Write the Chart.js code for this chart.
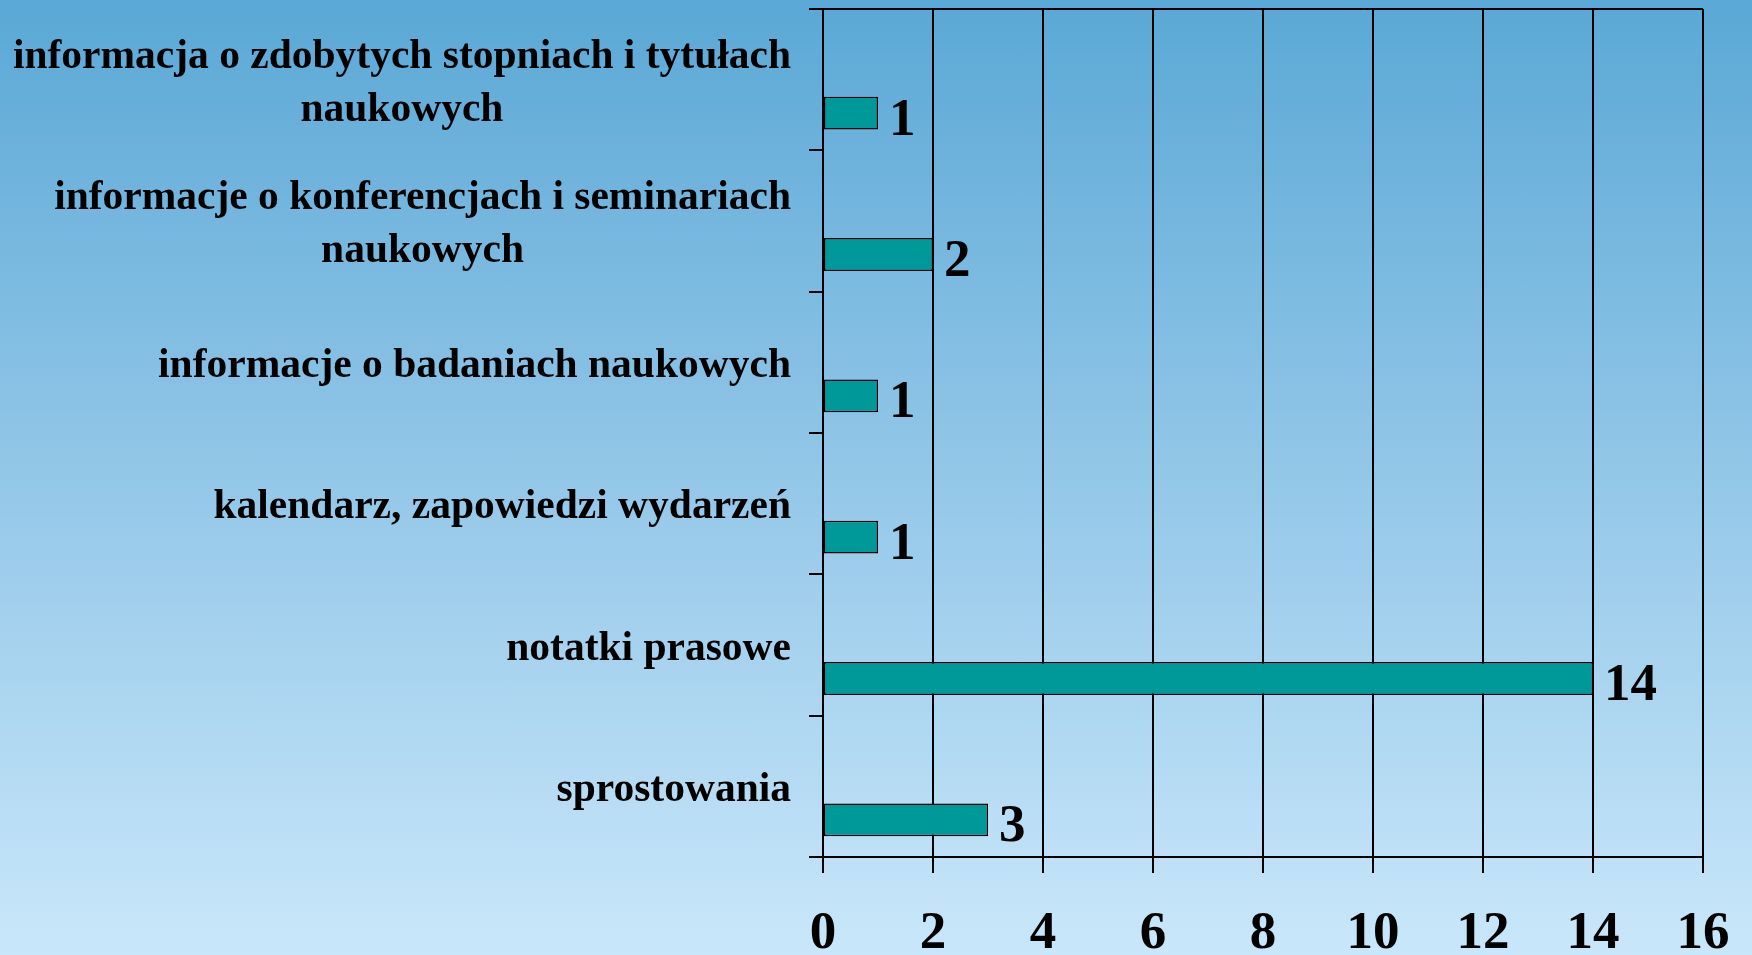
<!DOCTYPE html>
<html>
<head>
<meta charset="utf-8">
<script src="https://cdn.jsdelivr.net/npm/chart.js@4/dist/chart.umd.min.js"></script>
<style>
  html, body { margin: 0; padding: 0; }
  body {
    width: 1752px; height: 955px; overflow: hidden;
    background: linear-gradient(to bottom, #5aa8d6 0%, #93c7e8 50%, #c9e7fa 100%);
  }
  canvas { display: block; }
</style>
</head>
<body>
<canvas id="barChart" width="1752" height="955"></canvas>
<script>
// categories (each entry = lines of the label)
const categories = [
    ['informacja o zdobytych stopniach i tytułach', 'naukowych'],
    ['informacje o konferencjach i seminariach', 'naukowych'],
    ['informacje o badaniach naukowych'],
    ['kalendarz, zapowiedzi wydarzeń'],
    ['notatki prasowe'],
    ['sprostowania']
];
const counts = [1, 2, 1, 1, 14, 3];
const xTicks = [0, 2, 4, 6, 8, 10, 12, 14, 16];

const serif = '"Liberation Serif", "Times New Roman", serif';

// left-hand category labels: block right aligned, lines centered inside block
const categoryLabels = {
    id: 'categoryLabels',
    afterDraw(chart) {
        const ctx = chart.ctx;
        const yScale = chart.scales.y;
        const right = 791;
        const lineH = 53.5;
        ctx.save();
        ctx.font = 'bold 41.5px ' + serif;
        ctx.fillStyle = '#000';
        ctx.textAlign = 'center';
        ctx.textBaseline = 'middle';
        categories.forEach((lines, i) => {
            const y = yScale.getPixelForValue(i) + 4;
            const w = Math.max(...lines.map(l => ctx.measureText(l).width));
            const cx = right - w / 2;
            const y0 = y - (lines.length - 1) * lineH / 2;
            lines.forEach((l, j) => ctx.fillText(l, cx, y0 + j * lineH));
        });
        ctx.restore();
    }
};

// value labels at the end of each bar
const valueLabels = {
    id: 'valueLabels',
    afterDatasetsDraw(chart) {
        const ctx = chart.ctx;
        const meta = chart.getDatasetMeta(1);
        ctx.save();
        ctx.font = 'bold 53px ' + serif;
        ctx.fillStyle = '#000';
        ctx.textAlign = 'left';
        ctx.textBaseline = 'alphabetic';
        meta.data.forEach((bar, i) => {
            ctx.fillText(String(counts[i]), bar.x + 11, bar.y + 21.5);
        });
        ctx.restore();
    }
};

new Chart(document.getElementById('barChart').getContext('2d'), {
    type: 'bar',
    data: {
        labels: categories.map(c => c.join(' ')),
        datasets: [{
            // empty slot so the bar sits in the lower part of each band
            data: categories.map(() => null),
            backgroundColor: 'rgba(0,0,0,0)'
        }, {
            data: counts,
            backgroundColor: '#009999',
            borderColor: '#000000',
            borderWidth: 1.5,
            borderSkipped: false
        }]
    },
    options: {
        indexAxis: 'y',
        responsive: false,
        maintainAspectRatio: false,
        animation: false,
        devicePixelRatio: 1,
        categoryPercentage: 0.948,
        barPercentage: 0.49,
        layout: { padding: { top: 9, right: 49, bottom: 0, left: 0 } },
        plugins: {
            legend: { display: false },
            tooltip: { enabled: false }
        },
        scales: {
            x: {
                min: 0,
                max: 16,
                afterBuildTicks: (scale) => { scale.ticks = xTicks.map(v => ({ value: v })); },
                afterFit: (scale) => {
                    scale.height = 98;
                    scale.paddingLeft = 0;
                    scale.paddingRight = 0;
                },
                ticks: {
                    color: '#000',
                    padding: 30,
                    maxRotation: 0,
                    font: { family: serif, size: 53, weight: 'bold' }
                },
                grid: { color: '#000', lineWidth: 2, tickLength: 16, tickColor: '#000', tickWidth: 2 },
                border: { color: '#000', width: 2 }
            },
            y: {
                afterFit: (scale) => {
                    scale.width = 823;
                    scale.paddingTop = 0;
                    scale.paddingBottom = 0;
                },
                ticks: { display: false },
                grid: {
                    offset: true,
                    drawOnChartArea: true,
                    color: (c) => c.index === 0 ? '#000' : 'rgba(0,0,0,0)',
                    lineWidth: 2,
                    tickLength: 14,
                    tickColor: '#000',
                    tickWidth: 2
                },
                border: { color: '#000', width: 2 }
            }
        }
    },
    plugins: [categoryLabels, valueLabels]
});
</script>
</body>
</html>
